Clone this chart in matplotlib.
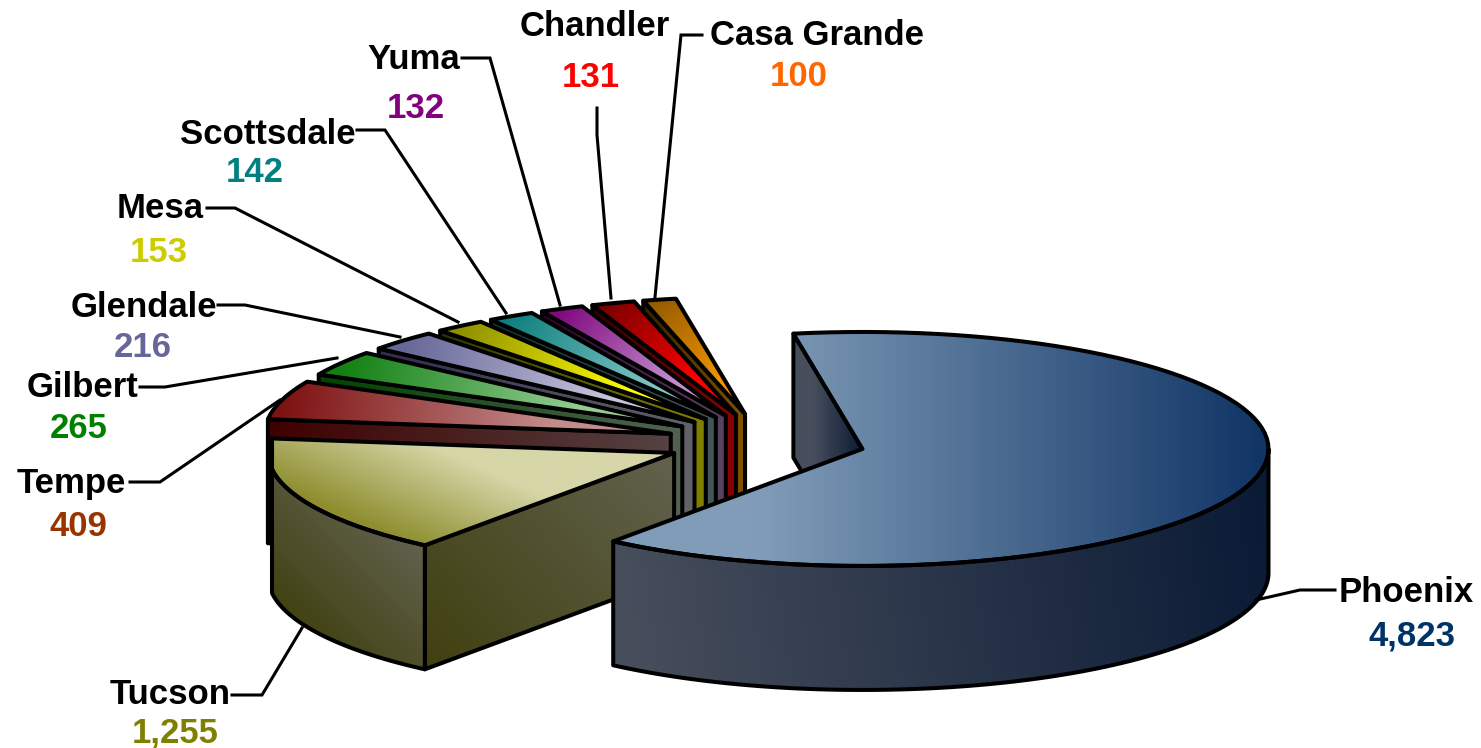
import numpy as np
import matplotlib
matplotlib.use('Agg')
import matplotlib.pyplot as plt
from matplotlib.colors import to_rgb
from matplotlib.patches import Polygon

plt.rcParams['font.family'] = ['Liberation Sans', 'DejaVu Sans']

#Data, clockwise starting from Phoenix
cities = ['Phoenix', 'Tucson', 'Tempe', 'Gilbert', 'Glendale', 'Mesa',
          'Scottsdale', 'Yuma', 'Chandler', 'Casa Grande']
values = [4823, 1255, 409, 265, 216, 153, 142, 132, 131, 100]

#Colours
label_colors = ['#003366', '#808000', '#993300', '#008000', '#666699',
                '#cccc00', '#008080', '#800080', '#ff0000', '#ff6600']
top_outer = ['#0f3364', '#8e8e30', '#7e1212', '#128012', '#666699',
             '#8f8f00', '#108080', '#800a80', '#800000', '#965c00']
top_inner = ['#809cb8', '#d6d6a8', '#c48c8c', '#94cc94', '#c4c4dc',
             '#ffff00', '#80c4c4', '#c490cc', '#ff0000', '#f09400']
side_outer = ['#0a1a35', '#404010', '#400000', '#004400', '#2e2e50',
              '#333300', '#0a3535', '#300030', '#300000', '#302000']
side_inner = ['#474e5c', '#62624f', '#554242', '#526252', '#626268',
              '#807f00', '#425558', '#574260', '#8a0000', '#805000']

#Label positions in pixels
name_xy = [(1406, 592), (170, 695), (71, 483), (83, 387), (144, 307),
           (160, 208), (268, 134), (414, 59), (595, 26), (817, 35)]
value_xy = [(1412, 636), (175, 733), (78, 526), (79, 428), (143, 347),
            (159, 252), (255, 172), (416, 108), (591, 77), (799, 76)]
leaders = [[(1256, 600), (1300, 590), (1335, 590)],
           [(302, 628), (262, 695), (232, 695)],
           [(280, 400), (160, 482), (130, 482)],
           [(337, 358), (165, 387), (140, 387)],
           [(400, 337), (245, 305), (218, 305)],
           [(458, 322), (235, 208), (207, 208)],
           [(506, 313), (385, 130), (357, 130)],
           [(560, 305), (490, 58), (462, 58)],
           [(611, 298), (597, 135), (597, 108)],
           [(655, 297), (681, 35), (702, 35)]]

#Pie geometry in pixels
cx, cy = 766, 442
rx, ry = 406, 117
depth = 124
explode = 0.245
start = 99.8
lw = 2.9
tucson_left = 272

fig = plt.figure(figsize=(14.81, 7.48), dpi=100)
ax = fig.add_axes([0, 0, 1, 1])
ax.set_xlim(0, 1481)
ax.set_ylim(748, 0)
ax.axis('off')


def grad_poly(pts, c0, c1, p0, p1, z):
    #Polygon filled with a linear gradient going from p0 to p1
    pts = np.array(pts)
    x0, y0 = pts.min(axis=0)
    x1, y1 = pts.max(axis=0)
    gx, gy = np.meshgrid(np.linspace(x0, x1, 300), np.linspace(y0, y1, 200))
    d = np.array(p1) - np.array(p0)
    s = ((gx - p0[0]) * d[0] + (gy - p0[1]) * d[1]) / (d @ d)
    s = np.clip(s, 0, 1)[..., None]
    img = (1 - s) * np.array(to_rgb(c0)) + s * np.array(to_rgb(c1))
    im = ax.imshow(img, extent=(x0, x1, y1, y0), origin='upper', aspect='auto',
                   interpolation='bilinear', zorder=z)
    patch = Polygon(pts, closed=True, fill=False, ec='black', lw=lw,
                    joinstyle='round', zorder=z + 0.5)
    ax.add_patch(patch)
    im.set_clip_path(patch)


fracs = np.array(values) / sum(values)
ends = start - np.cumsum(fracs) * 360
starts = ends + fracs * 360

#Draw the slices from the back to the front, Phoenix goes last
order = list(range(1, len(values)))[::-1] + [0]
for z, i in enumerate(order):
    z = z * 2 + 2
    mid = np.radians(0.5 * (starts[i] + ends[i]))
    ax0 = cx + explode * rx * np.cos(mid)
    ay0 = cy - explode * ry * np.sin(mid)

    def rim(t):
        t = np.radians(t)
        return np.column_stack([ax0 + rx * np.cos(t), ay0 - ry * np.sin(t)])

    ts = np.linspace(starts[i], ends[i], 90)
    edge = rim(ts)
    apex = np.array([ax0, ay0])
    down = np.array([0, depth])
    outer_mid = rim(np.degrees(mid))[0]

    if i == 0:
        #Phoenix shows its back cut face and a long front rim
        p = rim(start)[0]
        grad_poly([p, apex, apex + down, p + down], side_inner[i], side_outer[i],
                  (p[0] + 20, cy), (apex[0], cy), z)
        t_front = np.linspace(0, ends[i], 90)
        front = rim(t_front)
        grad_poly(np.vstack([front, (front + down)[::-1]]), side_outer[i], side_inner[i],
                  front[0], front[-1], z + 0.6)
        grad_poly(np.vstack([apex, edge]), top_outer[i], top_inner[i],
                  (1270, cy), (760, cy), z + 1)
        continue

    #Cut face at the front edge of the slice
    p = edge[0]
    if i == 1:
        #Tucson has the outer rim in view, and its top shades from the front
        edge[:, 0] = np.maximum(edge[:, 0], tucson_left)
        grad_poly([apex, p, p + down, apex + down], side_outer[i], side_inner[i],
                  p + down, apex, z)
        grad_poly(np.vstack([edge, (edge + down)[::-1]]), side_outer[i], side_inner[i],
                  (290, 630), (400, 520), z + 0.6)
        grad_poly(np.vstack([apex, edge]), top_outer[i], top_inner[i],
                  (390, 535), (430, 445), z + 1)
    else:
        grad_poly([apex, p, p + down, apex + down], side_outer[i], side_inner[i], p, apex, z)
        grad_poly(np.vstack([apex, edge]), top_outer[i], top_inner[i],
                  outer_mid, outer_mid + 0.7 * (apex - outer_mid), z + 1)

#Leader lines and labels
for i in range(len(cities)):
    xs, ys = zip(*leaders[i])
    ax.plot(xs, ys, color='black', lw=2.2, zorder=40, solid_joinstyle='miter')
    ax.text(name_xy[i][0], name_xy[i][1], cities[i], ha='center', va='center',
            fontsize=25, fontweight='bold', color='black', zorder=41)
    ax.text(value_xy[i][0], value_xy[i][1], f'{values[i]:,}', ha='center', va='center',
            fontsize=25, fontweight='bold', color=label_colors[i], zorder=41)

ax.set_xlim(0, 1481)
ax.set_ylim(748, 0)
fig.savefig('out.png', dpi=100, facecolor='white')
